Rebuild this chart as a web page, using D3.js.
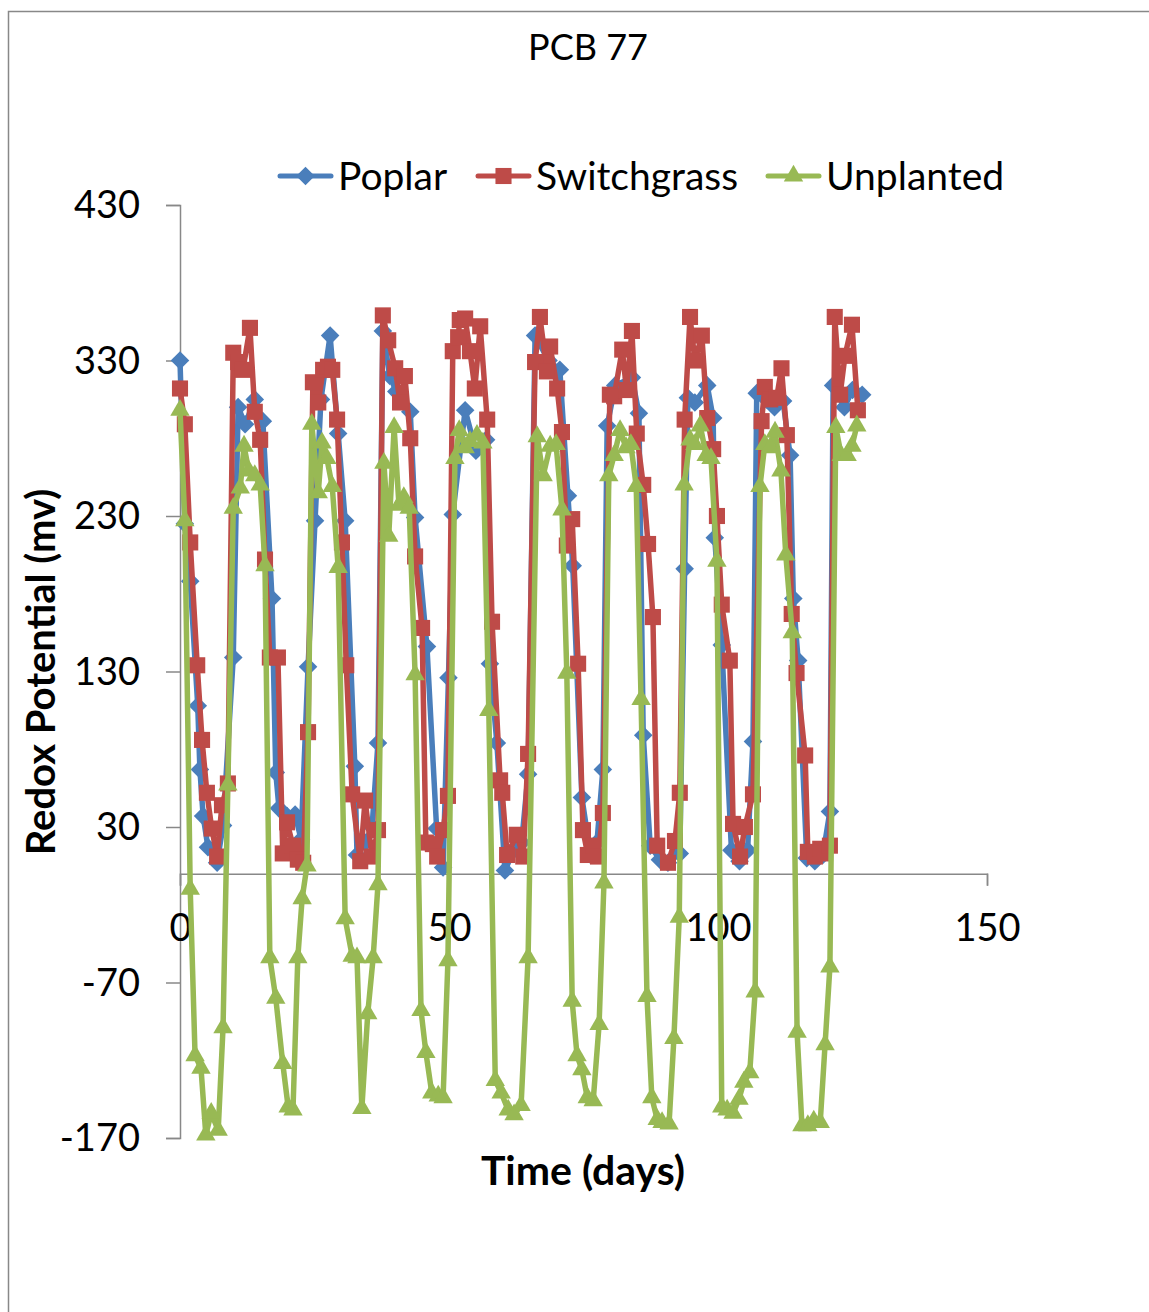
<!DOCTYPE html>
<html>
<head>
<meta charset="utf-8">
<script src="https://cdn.jsdelivr.net/npm/d3@7"></script>
<style>
  body { margin: 0; background: white; }
  svg text { font-family: Lato, "Open Sans", sans-serif; fill: black; }
</style>
</head>
<body>
<div id="chart"></div>
<script>
// values
var poplarDays = [0, 0.9, 1.9, 3.3, 3.7, 4.3, 5.2, 6.9, 8.0, 9.9, 10.8, 12.1, 13.9, 15.4, 17.1, 17.8, 18.4, 19.9, 21.4, 22.5, 23.8,
    25.1, 26.2, 27.9, 29.4, 30.7, 32.5, 32.9, 34.4, 35.7, 36.8, 37.7, 39.0, 40.2, 42.8, 43.7, 45.9, 47.7, 48.9, 49.9,
    50.7, 53.0, 55.0, 56.9, 57.6, 58.9, 60.4, 62.0, 63.5, 64.7, 66.0, 68.5, 70.6, 72.1, 73.0, 74.7, 76.3, 77.5, 78.6,
    79.4, 80.9, 84.0, 85.3, 86.1, 87.4, 89.2, 90.7, 92.9, 93.8, 94.4, 95.7, 98.0, 99.1, 99.4, 100.7, 102.5, 104.0, 105.5,
    106.5, 107.2, 109.0, 110.5, 112.1, 113.4, 114.0, 114.9, 116.5, 118.0, 119.5, 120.8, 121.4, 123.5, 125.0, 126.8];
var poplarValues = [330, 225, 188, 108, 67, 37, 17, 7, 31, 139, 300, 289, 305, 291, 177, 65, 42, 37, 38, 22, 133,
    227, 305, 346, 283, 227, 69, 12, 20, 30, 84, 349, 320, 310, 297, 229, 146, 29, 4, 126,
    231, 298, 272, 279, 135, 84, 2, 15, 20, 64, 346, 330, 324, 243, 198, 49, 12, 20, 67,
    288, 314, 319, 296, 89, 18, 9, 7, 13, 196, 306, 303, 314, 293, 216, 147, 15, 8, 15,
    85, 309, 305, 300, 304, 269, 177, 137, 10, 8, 12, 40, 314, 300, 311, 308];

var switchgrassDays = [0, 0.9, 1.9, 3.2, 4.1, 5.0, 5.9, 6.9, 7.8, 8.9, 9.9, 10.8, 11.7, 13.0, 13.9, 14.9, 15.8, 16.7, 18.2,
    19.1, 19.9, 21.0, 21.9, 22.9, 23.8, 24.7, 25.7, 26.6, 27.5, 28.3, 29.2, 30.1, 30.9, 32.0, 33.5, 34.4, 35.7, 36.8,
    37.7, 38.7, 40.0, 40.9, 41.8, 42.8, 43.7, 45.0, 45.7, 47.0, 47.8, 48.9, 49.8, 50.7, 51.7, 52.0, 53.0, 53.9, 54.8,
    55.8, 57.1, 58.0, 59.5, 59.9, 60.8, 62.6, 63.8, 64.7, 66.0, 66.9, 68.2, 68.8, 70.1, 71.0, 71.9, 72.9, 74.0, 74.9,
    75.8, 76.8, 77.7, 78.6, 79.9, 80.7, 82.2, 83.0, 84.0, 84.9, 86.1, 87.0, 87.9, 88.7, 90.7, 92.0, 92.9, 93.8, 94.8,
    95.7, 97.0, 98.0, 99.1, 99.8, 100.7, 102.2, 102.8, 104.1, 105.0, 106.5, 108.1, 108.7, 109.7, 110.9, 111.8, 112.8,
    113.7, 114.6, 116.2, 116.7, 118.0, 119.0, 119.9, 120.8, 121.7, 122.7, 123.6, 124.9, 126.0];
var switchgrassValues = [312, 289, 213, 134, 86, 52, 29, 11, 44, 58, 335, 329, 324, 351, 297, 279, 202, 139, 139,
    13, 33, 18, 9, 7, 91, 316, 303, 324, 326, 324, 292, 213, 134, 51, 8, 47, 11, 28,
    359, 343, 325, 303, 320, 280, 204, 158, 20, 19, 11, 28, 50, 336, 345, 356, 357, 336, 312,
    352, 292, 162, 60, 52, 12, 25, 11, 77, 329, 358, 323, 339, 312, 284, 211, 228, 135, 28,
    12, 18, 11, 39, 308, 307, 337, 311, 349, 283, 250, 212, 165, 18, 7, 21, 52, 292, 358,
    330, 346, 293, 273, 230, 173, 137, 32, 11, 30, 51, 291, 313, 305, 306, 325, 282,
    167, 129, 76, 14, 11, 16, 13, 18, 358, 308, 333, 353, 298];

var unplantedDays = [0, 0.9, 1.9, 2.8, 3.9, 4.8, 5.8, 7.1, 8.0, 8.9, 9.9, 11.2, 11.9, 12.8, 13.9, 14.9, 15.8, 16.7, 17.8,
    19.1, 20.1, 21.0, 21.9, 22.7, 23.6, 24.5, 25.7, 26.4, 27.3, 28.3, 29.4, 30.7, 32.0, 32.9, 33.8, 34.9, 35.9, 36.8,
    37.9, 38.8, 39.8, 40.7, 41.6, 42.6, 43.7, 44.8, 45.7, 46.8, 48.0, 48.9, 49.8, 51.1, 51.9, 53.0, 53.9, 55.2, 56.3,
    57.4, 58.6, 59.7, 61.0, 62.1, 63.4, 64.7, 66.4, 67.5, 68.8, 69.9, 71.0, 71.9, 72.9, 73.8, 74.7, 75.7, 76.8, 77.9,
    78.8, 79.7, 80.7, 81.8, 82.9, 83.8, 84.8, 85.7, 86.8, 87.7, 88.7, 89.6, 90.9, 91.8, 92.8, 93.7, 94.8, 95.7, 96.7,
    97.8, 98.7, 99.8, 100.7, 101.7, 102.8, 103.9, 104.8, 105.9, 106.9, 107.8, 108.7, 109.7, 110.6, 111.7, 112.6, 113.8,
    114.7, 115.6, 116.7, 117.8, 119.0, 119.9, 120.8, 121.9, 122.9, 124.0, 124.9, 125.8];
var unplantedValues = [298, 227, -10, -117, -125, -168, -154, -165, -99, 57, 235, 248, 275, 259, 256, 250, 198, -54, -80,
    -122, -150, -152, -54, -16, 5, 289, 245, 277, 267, 249, 197, -29, -53, -54, -151, -90, -54, -7,
    264, 217, 287, 237, 242, 235, 128, -88, -115, -141, -143, -144, -56, 267, 285, 274, 278, 282, 277,
    105, -133, -141, -152, -155, -149, -54, 281, 256, 275, 276, 234, 129, -82, -117, -126, -144, -146, -97,
    -6, 256, 269, 285, 274, 276, 249, 112, -79, -144, -158, -160, -161, -106, -28, 250, 279, 276, 288,
    269, 267, 201, -150, -152, -154, -145, -134, -128, -76, 249, 276, 274, 284, 259, 205, 155,
    -102, -162, -162, -159, -160, -110, -60, 287, 269, 269, 275, 288];

var seriesNames = ["Poplar", "Switchgrass", "Unplanted"];
var seriesColors = ["#4A7EBB", "#BE4B48", "#98B954"];
var yTicks = [430, 330, 230, 130, 30, -70, -170];
var xTicks = [0, 50, 100, 150];

var series = [
    {name: seriesNames[0], color: seriesColors[0], symbol: d3.symbolDiamond2, size: 220, days: poplarDays, values: poplarValues},
    {name: seriesNames[1], color: seriesColors[1], symbol: d3.symbolSquare2, size: 330, days: switchgrassDays, values: switchgrassValues},
    {name: seriesNames[2], color: seriesColors[2], symbol: d3.symbolTriangle2, size: 270, days: unplantedDays, values: unplantedValues}
];
series.forEach(function(s) {
    s.points = s.days.map(function(d, i) { return {day: d, value: s.values[i]}; });
});

var width = 1149, height = 1312;

//
// Scales
//
var x = d3.scaleLinear().domain([0, 150]).range([180, 987]);
var y = d3.scaleLinear().domain([-170, 430]).range([1138, 205]);

var svg = d3.select("#chart").append("svg")
    .attr("width", width)
    .attr("height", height);

// chart area border (right and bottom run off the picture)
svg.append("path")
    .attr("d", "M8.5," + height + "V11.5H" + width)
    .attr("fill", "none")
    .attr("stroke", "#888")
    .attr("stroke-width", 1.5);

svg.append("text")
    .attr("x", 588)
    .attr("y", 60)
    .attr("text-anchor", "middle")
    .style("font-size", "36px")
    .text("PCB 77");

// y axis
var yAxis = svg.append("g")
    .attr("transform", "translate(" + x(0) + ",0)")
    .call(d3.axisLeft(y).tickValues(yTicks).tickSize(14).tickPadding(26)
          .tickFormat(function(d) { return String(d); }));
// x axis at zero
var xAxis = svg.append("g")
    .attr("transform", "translate(0," + y(0) + ")")
    .call(d3.axisBottom(x).tickValues(xTicks).tickSize(12).tickPadding(48)
          .tickFormat(function(d) { return String(d); }));

[yAxis, xAxis].forEach(function(g) {
    g.select(".domain").attr("stroke", "#888").attr("stroke-width", 1.5);
    g.selectAll(".tick line").attr("stroke", "#888").attr("stroke-width", 1.5);
    g.selectAll(".tick text")
        .style("font-family", "Lato, 'Open Sans', sans-serif")
        .style("font-size", "38px")
        .attr("fill", "black");
});
yAxis.selectAll(".tick text").attr("dy", "0.34em");
xAxis.selectAll(".tick text").attr("dy", "0.2em");

// axis titles
svg.append("text")
    .attr("x", 583)
    .attr("y", 1185)
    .attr("text-anchor", "middle")
    .style("font-size", "41px")
    .style("font-weight", "bold")
    .text("Time (days)");

svg.append("text")
    .attr("transform", "translate(55,672) rotate(-90)")
    .attr("text-anchor", "middle")
    .style("font-size", "40px")
    .style("font-weight", "bold")
    .text("Redox Potential (mv)");

//
// Lines and markers
//
var line = d3.line()
    .x(function(d) { return x(d.day); })
    .y(function(d) { return y(d.value); });

series.forEach(function(s) {
    var g = svg.append("g");
    g.append("path")
        .datum(s.points)
        .attr("fill", "none")
        .attr("stroke", s.color)
        .attr("stroke-width", 5.5)
        .attr("stroke-linejoin", "round")
        .attr("d", line);
    g.selectAll("path.mark")
        .data(s.points)
        .enter().append("path")
        .attr("class", "mark")
        .attr("transform", function(d) { return "translate(" + x(d.day) + "," + y(d.value) + ")"; })
        .attr("d", d3.symbol().type(s.symbol).size(s.size))
        .attr("fill", s.color);
});

//
// Legend
//
var legendX = [278, 476, 766];
series.forEach(function(s, i) {
    var lg = svg.append("g").attr("transform", "translate(" + legendX[i] + ",176)");
    lg.append("line")
        .attr("x1", 2).attr("x2", 53)
        .attr("stroke", s.color)
        .attr("stroke-width", 5)
        .attr("stroke-linecap", "round");
    lg.append("path")
        .attr("transform", "translate(27.5,0)")
        .attr("d", d3.symbol().type(s.symbol).size(s.size))
        .attr("fill", s.color);
    lg.append("text")
        .attr("x", 60)
        .attr("y", 14)
        .style("font-size", "39px")
        .text(s.name);
});
</script>
</body>
</html>
